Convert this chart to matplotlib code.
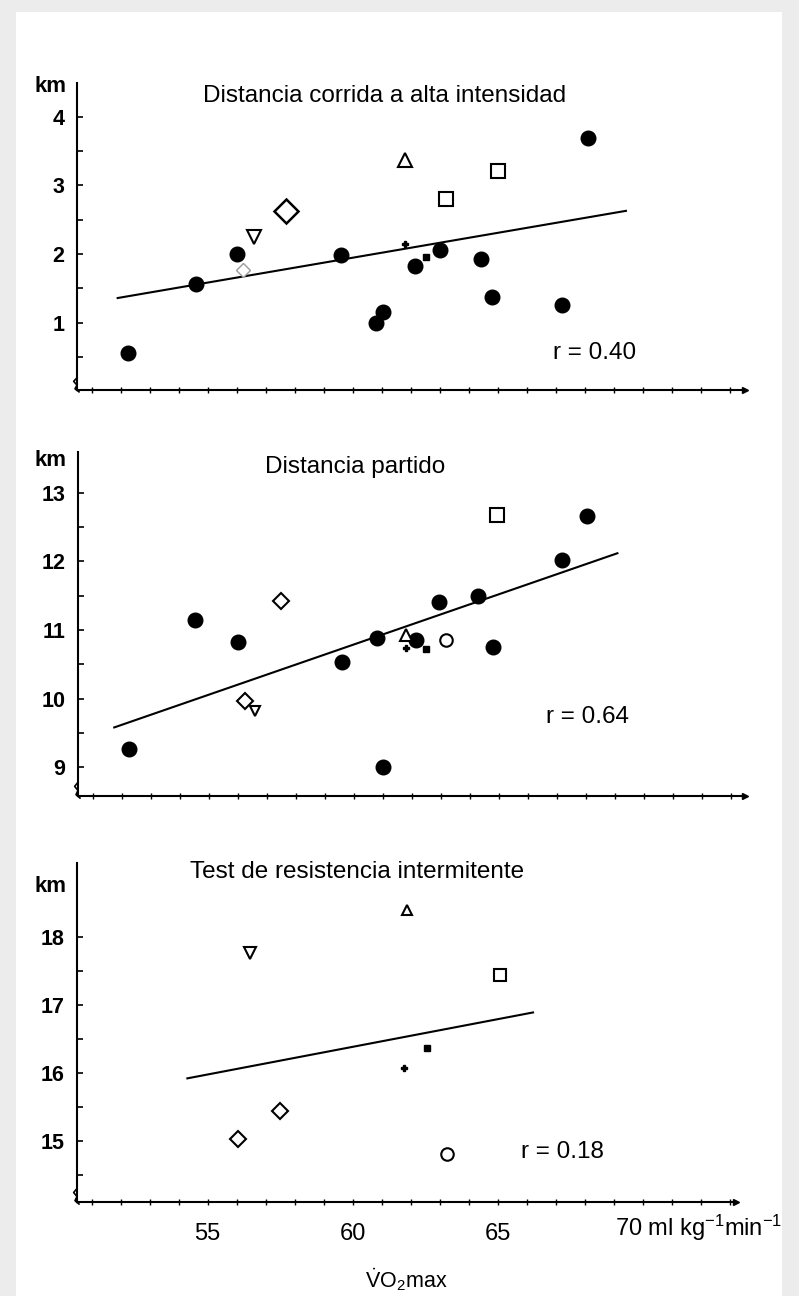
import matplotlib
matplotlib.use("Agg")
import matplotlib.pyplot as plt
from matplotlib.patches import Rectangle

plt.rcParams['font.family'] = ['Liberation Sans', 'DejaVu Sans']
plt.rcParams['mathtext.fontset'] = 'custom'
plt.rcParams['mathtext.rm'] = 'Liberation Sans'
plt.rcParams['mathtext.it'] = 'Liberation Sans'

# ---------------- data ----------------
titles = ["Distancia corrida a alta intensidad", "Distancia partido",
          "Test de resistencia intermitente"]
r_labels = ["r = 0.40", "r = 0.64", "r = 0.18"]

# Panel 1: high-intensity running distance (km)
hi_fill_x = [52.25, 54.6, 56.0, 59.6, 60.8, 61.05, 62.15, 63.0, 64.4, 64.8, 67.2, 68.1]
hi_fill_y = [0.56, 1.57, 2.0, 1.99, 0.99, 1.15, 1.82, 2.06, 1.93, 1.38, 1.26, 3.69]
hi_triup = ([61.8], [3.37])
hi_tridown = ([56.6], [2.25])
hi_square = ([65.0, 63.2], [3.21, 2.80])
hi_diamond = ([57.7], [2.63])
hi_faint = ([56.2], [1.77])
hi_plus = ([61.8], [2.14])
hi_smallsq = ([62.5], [1.96])
hi_fit_x = [51.9, 69.4]
hi_fit_y = [1.36, 2.63]

# Panel 2: match distance (km)
md_fill_x = [52.25, 54.55, 56.0, 59.6, 60.8, 61.0, 62.15, 62.96, 64.28, 64.8, 67.2, 68.05]
md_fill_y = [9.26, 11.15, 10.82, 10.54, 10.88, 9.0, 10.86, 11.41, 11.49, 10.76, 12.02, 12.67]
md_triup = ([61.8], [10.93])
md_tridown = ([56.6], [9.82])
md_square = ([64.95], [12.68])
md_diamond = ([57.5, 56.25], [11.42, 9.96])
md_circle = ([63.2], [10.86])
md_plus = ([61.8], [10.74])
md_smallsq = ([62.5], [10.72])
md_fit_x = [51.75, 69.1]
md_fit_y = [9.58, 12.12]

# Panel 3: intermittent endurance test (km)
it_triup = ([61.85], [18.40])
it_tridown = ([56.45], [17.76])
it_square = ([65.05], [17.44])
it_diamond = ([57.5, 56.05], [15.44, 15.02])
it_circle = ([63.25], [14.80])
it_plus = ([61.75], [16.07])
it_smallsq = ([62.55], [16.37])
it_fit_x = [54.3, 66.2]
it_fit_y = [15.92, 16.89]

yticks = [[1, 2, 3, 4], [9, 10, 11, 12, 13], [15, 16, 17, 18]]
yminor = [[0.5, 1.5, 2.5, 3.5], [9.5, 10.5, 11.5, 12.5], [14.5, 15.5, 16.5, 17.5]]
ylims = [(0.02, 4.5), (8.58, 13.6), (14.10, 19.09)]
r_pos = [(66.9, 0.56), (66.65, 9.73), (65.8, 14.83)]
xticks = [55, 60, 65]
xtick_labels = ["55", "60", "65"]
x_unit_label = "70 ml kg$\\mathregular{^{-1}}$min$\\mathregular{^{-1}}$"
x_title = "$\\dot{\\mathrm{V}}\\mathrm{O_2max}$"

# ---------------- figure ----------------
W, H = 799, 1296
fig = plt.figure(figsize=(W / 100, H / 100), dpi=100, facecolor='#ececec')
fig.patches.append(Rectangle((16 / W, 0), (782 - 16) / W, 1 - 12 / H,
                             transform=fig.transFigure, facecolor='white',
                             edgecolor='none', zorder=-10))

def px_axes(left, top, right, bottom):
    return fig.add_axes([left / W, 1 - bottom / H, (right - left) / W, (bottom - top) / H])

axes = [px_axes(77, 82.5, 745, 390),
        px_axes(78, 451.75, 745, 796),
        px_axes(77, 863, 745, 1202)]

XLIM = (50.5, 73.5)
ms_big = 10.5

for i, ax in enumerate(axes):
    ax.set_facecolor('none')
    ax.set_xlim(*XLIM)
    ax.set_ylim(*ylims[i])
    for s in ['top', 'right']:
        ax.spines[s].set_visible(False)
    ax.spines['left'].set_linewidth(1.5)
    ax.spines['bottom'].set_linewidth(1.5)
    if i == 2:
        ax.spines['bottom'].set_bounds(XLIM[0], 73.2)
    ax.set_yticks(yticks[i])
    ax.set_yticks(yminor[i], minor=True)
    ax.set_yticklabels([str(t) for t in yticks[i]], fontsize=15.5, fontweight='bold')
    ax.tick_params(axis='y', which='both', direction='in', length=4, width=1.2, pad=9)
    ax.set_xticks(list(range(51, 74)), minor=True)
    ax.set_xticks(xticks)
    ax.tick_params(axis='x', which='both', direction='inout', length=4, width=1.0)
    if i == 2:
        ax.set_xticklabels(xtick_labels, fontsize=17)
        ax.tick_params(axis='x', which='major', pad=13)
    else:
        ax.set_xticklabels([])
    # arrow at end of x axis
    xe = 1.0 if i < 2 else (73.2 - XLIM[0]) / (XLIM[1] - XLIM[0])
    ax.plot([xe], [0], marker='>', ms=5, color='black', transform=ax.transAxes, clip_on=False)
    # axis break squiggle
    ax.plot([0.0, -0.005, 0.0, -0.003, 0.003], [0.04, 0.028, 0.016, 0.004, -0.006],
            color='black', lw=1.2, transform=ax.transAxes, clip_on=False)

# km labels
for (x, y) in [(50, 87), (50, 460), (50, 886)]:
    fig.text(x / W, 1 - y / H, "km", ha='center', va='center', fontsize=16, fontweight='bold')

# titles
for (x, y), t in zip([(203, 96), (265, 467), (190, 872)], titles):
    fig.text(x / W, 1 - y / H, t, ha='left', va='center', fontsize=17.5)

def open_mk(ax, pts, marker, ms, mew=1.5, color='black'):
    ax.plot(pts[0], pts[1], linestyle='none', marker=marker, ms=ms, mfc='white',
            mec=color, mew=mew, zorder=4)

def small(ax, pts, marker, ms):
    ax.plot(pts[0], pts[1], linestyle='none', marker=marker, ms=ms, color='black', zorder=4)

# Panel 1
ax = axes[0]
ax.plot(hi_fit_x, hi_fit_y, color='black', lw=1.5, zorder=2)
ax.plot(hi_fill_x, hi_fill_y, 'o', color='black', ms=ms_big, zorder=3)
open_mk(ax, hi_triup, '^', 9.5)
open_mk(ax, hi_tridown, 'v', 9.5)
open_mk(ax, hi_square, 's', 10)
open_mk(ax, hi_diamond, 'D', 12, mew=1.8)
open_mk(ax, hi_faint, 'D', 7, mew=1.0, color='#9a9a9a')
small(ax, hi_plus, 'P', 4.5)
small(ax, hi_smallsq, 's', 4.5)

# Panel 2
ax = axes[1]
ax.plot(md_fit_x, md_fit_y, color='black', lw=1.5, zorder=2)
ax.plot(md_fill_x, md_fill_y, 'o', color='black', ms=ms_big, zorder=3)
open_mk(ax, md_triup, '^', 8)
open_mk(ax, md_tridown, 'v', 7)
open_mk(ax, md_square, 's', 10.5)
open_mk(ax, md_diamond, 'D', 8)
open_mk(ax, md_circle, 'o', 9)
small(ax, md_plus, 'P', 4.5)
small(ax, md_smallsq, 's', 4.5)

# Panel 3
ax = axes[2]
ax.plot(it_fit_x, it_fit_y, color='black', lw=1.5, zorder=2)
open_mk(ax, it_triup, '^', 7)
open_mk(ax, it_tridown, 'v', 8)
open_mk(ax, it_square, 's', 9)
open_mk(ax, it_diamond, 'D', 8)
open_mk(ax, it_circle, 'o', 9)
small(ax, it_plus, 'P', 4.5)
small(ax, it_smallsq, 's', 4.5)

for ax, rl, (rx, ry) in zip(axes, r_labels, r_pos):
    ax.text(rx, ry, rl, ha='left', va='center', fontsize=17.5)

# x unit label and axis title
fig.text(615 / W, 1 - 1228 / H, x_unit_label, ha='left', va='center', fontsize=17)
fig.text(406 / W, 1 - 1280 / H, x_title, ha='center', va='center', fontsize=15.5)

fig.savefig("out.png", dpi=100, facecolor=fig.get_facecolor())
